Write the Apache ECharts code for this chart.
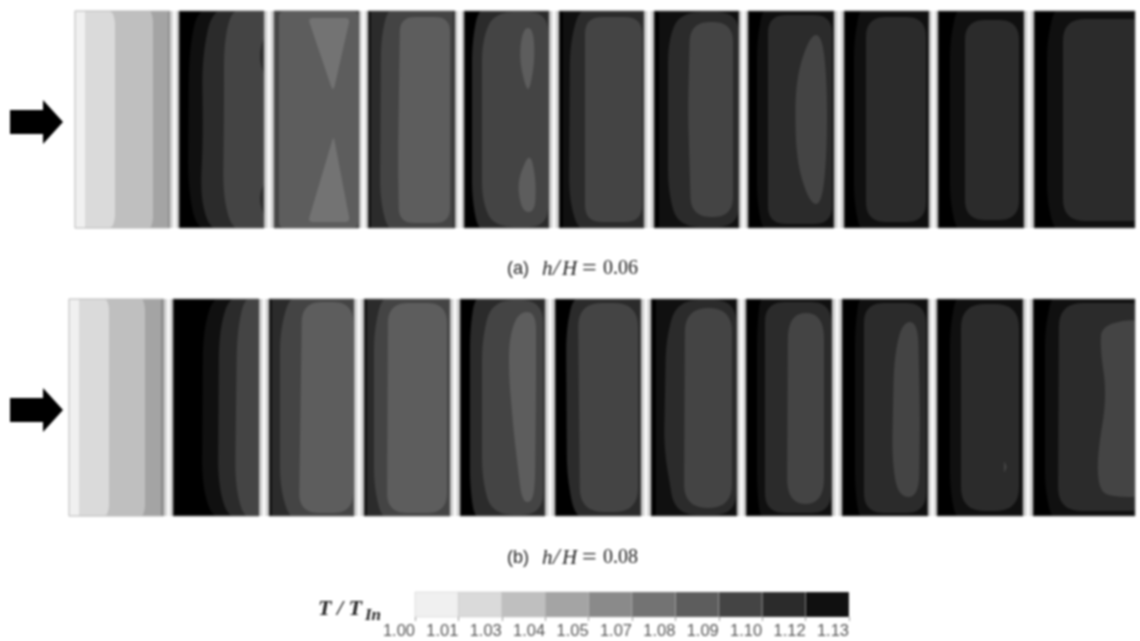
<!DOCTYPE html>
<html><head><meta charset="utf-8">
<style>html,body{margin:0;padding:0;background:#fff}#c{width:1140px;height:641px;filter:blur(1px)}</style>
<script src="https://cdn.jsdelivr.net/npm/echarts@6/dist/echarts.min.js"></script>
</head><body><div id="c"></div>
<script>
// T/Tin band lower limits and their tick labels
const bandTicks = ['1.00','1.01','1.03','1.04','1.05','1.07','1.08','1.09','1.10','1.12','1.13'];
const bandGreys = ['#f0f0f0','#dadada','#bfbfbf','#a4a4a4','#8a8a8a','#737373','#5d5d5d','#444444','#2b2b2b','#101010','#000000'];

// channel rows: vertical extent, panel edges along the duct
const rowTop = [11, 299];
const rowHeight = 217;
const arrowY = [122, 410];
const edgesA = [[75,170],[179,264],[274,359],[368,455],[464,549],[559,644],[654,739],[748,834],[844,929],[938,1024],[1034,1135]];
const edgesB = [[69,164],[173,259],[269,354],[364,450],[460,545],[555,641],[651,737],[746,832],[842,928],[937,1023],[1033,1135]];
const baseA = ['1.00','1.13','1.09','1.10','1.13','1.13','1.13','1.13','1.13','1.13','1.13'];
const baseB = ['1.00','1.13','1.10','1.10','1.13','1.13','1.13','1.13','1.13','1.13','1.13'];

// contour outlines per panel: [band, corner softness, outline points (along duct, across duct)]
const contoursA = [
 [['1.01',0,[[10,-9],[120,-9],[120,226],[10,226]]],
  ['1.03',6,[[33,-9],[40,8],[40,209],[33,226],[120,226],[120,-9]]],
  ['1.04',6,[[72,-9],[78,6],[78,211],[72,226],[120,226],[120,-9]]],
  ['1.05',0,[[93,-9],[120,-9],[120,226],[93,226]]]],
 [['1.12',30,[[20,-9],[10,40],[9,180],[20,226],[120,226],[120,-9]]],
  ['1.10',30,[[35,-9],[23,45],[24,130],[21,190],[35,226],[120,226],[120,-9]]],
  ['1.09',30,[[57,-9],[45,25],[45,100],[44,190],[57,226],[120,226],[120,-9]]],
  ['1.10',10,[[90,18],[81,35],[81,55],[90,72]]],
  ['1.10',10,[[90,165],[81,180],[81,195],[90,215]]]],
 [['1.08',6,[[5,0],[84,0],[84,217],[5,217]]],
  ['1.07',5,[[34,7],[76,7],[60,78],[58,78]]],
  ['1.07',5,[[59,127],[60,127],[76,211],[34,211]]]],
 [['1.12',0,[[-9,-9],[3,-9],[3,226],[-9,226]]],
  ['1.09',22,[[22,-9],[13,25],[12,190],[22,226],[120,226],[120,-9]]],
  ['1.08',15,[[32,6],[82,6],[82,212],[31,212],[30,150]]],
  ['1.10',0,[[85,-9],[120,-9],[120,226],[85,226]]]],
 [['1.10',22,[[16,-9],[8,30],[8,190],[16,226],[120,226],[120,-9]]],
  ['1.09',20,[[30,1],[84,1],[84,216],[30,216],[18,190],[18,30]]],
  ['1.08',22,[[59,17],[69,17],[71,47],[66,78],[62,78],[55,47]]],
  ['1.08',14,[[66,140],[72,169],[71,201],[58,201],[53,171]]]],
 [['1.12',0,[[4,-9],[120,-9],[120,226],[4,226]]],
  ['1.10',25,[[23,-9],[11,30],[10,190],[22,226],[120,226],[120,-9]]],
  ['1.09',17,[[26,6],[83,6],[83,211],[26,211]]]],
 [['1.12',0,[[5,-9],[120,-9],[120,226],[5,226]]],
  ['1.10',22,[[26,1],[85,1],[85,216],[24,216],[14,180],[14,30]]],
  ['1.09',20,[[36,11],[79,11],[79,206],[37,206],[34,100]]]],
 [['1.12',18,[[16,-9],[9,30],[9,190],[16,226],[120,226],[120,-9]]],
  ['1.10',18,[[20,4],[84,4],[84,213],[20,213]]],
  ['1.09',34,[[62,24],[74,24],[79,70],[79,140],[74,193],[62,193],[48,150],[47,70]]]],
 [['1.12',18,[[17,-9],[10,30],[10,190],[17,226],[120,226],[120,-9]]],
  ['1.10',20,[[22,6],[82,6],[82,211],[22,211]]]],
 [['1.12',18,[[20,-9],[12,30],[12,190],[20,226],[120,226],[120,-9]]],
  ['1.10',20,[[27,9],[81,9],[81,209],[27,209]]]],
 [['1.12',18,[[22,-9],[13,30],[13,190],[22,226],[120,226],[120,-9]]],
  ['1.10',22,[[29,8],[120,8],[120,210],[29,210]]]]
];
const contoursB = [
 [['1.01',0,[[10,-9],[120,-9],[120,226],[10,226]]],
  ['1.03',6,[[33,-9],[40,6],[40,211],[33,226],[120,226],[120,-9]]],
  ['1.04',6,[[70,-9],[76,6],[76,211],[70,226],[120,226],[120,-9]]],
  ['1.05',0,[[92,-9],[120,-9],[120,226],[92,226]]]],
 [['1.12',30,[[43,-9],[30,30],[29,190],[43,226],[120,226],[120,-9]]],
  ['1.10',30,[[59,-9],[46,30],[45,190],[59,226],[120,226],[120,-9]]],
  ['1.09',30,[[74,-9],[64,30],[62,190],[74,226],[120,226],[120,-9]]],
  ['1.10',0,[[85,-9],[120,-9],[120,226],[85,226]]]],
 [['1.12',0,[[-9,-9],[3,-9],[3,226],[-9,226]]],
  ['1.09',22,[[23,-9],[11,30],[11,190],[23,226],[120,226],[120,-9]]],
  ['1.08',20,[[33,3],[84,3],[84,214],[30,214]]]],
 [['1.12',0,[[-9,-9],[3,-9],[3,226],[-9,226]]],
  ['1.09',22,[[20,-9],[10,30],[10,190],[20,226],[120,226],[120,-9]]],
  ['1.08',20,[[24,4],[83,4],[83,214],[23,214]]]],
 [['1.10',20,[[16,-9],[10,30],[10,190],[16,226],[120,226],[120,-9]]],
  ['1.09',22,[[32,1],[83,1],[83,216],[32,216],[22,180],[22,40]]],
  ['1.08',18,[[49,40],[58,13],[76,13],[76,86],[75,186],[72,203],[62,203],[54,136],[49,79]]]],
 [['1.10',24,[[20,-9],[11,30],[12,180],[22,226],[120,226],[120,-9]]],
  ['1.09',24,[[23,4],[83,4],[83,213],[25,213]]]],
 [['1.12',0,[[5,-9],[120,-9],[120,226],[5,226]]],
  ['1.10',22,[[26,1],[85,1],[85,216],[24,216],[13,150],[15,40]]],
  ['1.09',24,[[34,9],[81,9],[81,209],[33,209]]]],
 [['1.12',18,[[15,-9],[11,30],[11,190],[15,226],[120,226],[120,-9]]],
  ['1.10',20,[[19,3],[85,3],[85,214],[19,214]]],
  ['1.09',26,[[42,14],[78,14],[78,205],[41,205]]]],
 [['1.12',18,[[18,-9],[13,30],[13,190],[18,226],[120,226],[120,-9]]],
  ['1.10',20,[[22,4],[84,4],[84,214],[22,214]]],
  ['1.09',24,[[52,60],[60,23],[76,23],[78,119],[77,198],[56,198],[50,160]]]],
 [['1.12',18,[[20,-9],[13,30],[13,190],[20,226],[120,226],[120,-9]]],
  ['1.10',24,[[24,5],[82,5],[82,212],[24,212]]],
  ['1.09',2,[[67,162],[70,168],[67,174]]]],
 [['1.12',18,[[20,-9],[12,30],[12,190],[20,226],[120,226],[120,-9]]],
  ['1.10',24,[[26,4],[120,4],[120,212],[25,212]]],
  ['1.09',28,[[120,19],[69,24],[67,49],[74,96],[64,159],[66,190],[77,198],[120,198]]]]
];
const arrowOutline = [[10,-12],[43,-12],[43,-22],[63,0],[43,22],[43,12],[10,12]];

const grey = t => bandGreys[bandTicks.indexOf(t)];

// softened outline, limited to the panel
function soften(pts, r, w, h) {
  const out = [], n = pts.length;
  pts.forEach((p, i) => {
    const a = pts[(i + n - 1) % n], b = pts[(i + 1) % n];
    const la = Math.hypot(a[0]-p[0], a[1]-p[1]), lb = Math.hypot(b[0]-p[0], b[1]-p[1]);
    const d1 = Math.min(r, la / 2), d2 = Math.min(r, lb / 2);
    const s = [p[0]+(a[0]-p[0])*d1/la, p[1]+(a[1]-p[1])*d1/la];
    const e = [p[0]+(b[0]-p[0])*d2/lb, p[1]+(b[1]-p[1])*d2/lb];
    for (let k = 0; k <= 10; k++) {
      const t = k / 10, u = 1 - t;
      out.push([u*u*s[0]+2*u*t*p[0]+t*t*e[0], u*u*s[1]+2*u*t*p[1]+t*t*e[1]]);
    }
  });
  return out.map(q => [Math.max(0, Math.min(w, q[0])), Math.max(0, Math.min(h, q[1]))]);
}

// flatten rows into marks
const marks = [];
[[edgesA, baseA, contoursA], [edgesB, baseB, contoursB]].forEach((row, ri) => {
  const top = rowTop[ri];
  row[0].forEach((edge, i) => {
    const w = edge[1] - edge[0];
    const next = row[0][i + 1];
    if (next) {
      marks.push({kind:'rect', x0:edge[1], x1:next[0], y0:top, y1:top+rowHeight, fill:'#d6d6d6'});
      const mid = (edge[1] + next[0]) / 2;
      marks.push({kind:'rect', x0:mid-1.2, x1:mid+1.2, y0:top, y1:top+rowHeight, fill:'#ffffff'});
    }
    marks.push({kind:'rect', x0:edge[0], x1:edge[1], y0:top, y1:top+rowHeight, fill:grey(row[1][i])});
    row[2][i].forEach(c => {
      marks.push({kind:'poly', x:edge[0], y:top, fill:grey(c[0]), pts:soften(c[2], c[1], w, rowHeight)});
    });
    marks.push({kind:'rect', x0:edge[0], x1:edge[1], y0:top, y1:top+rowHeight, fill:'none',
      stroke: i === 0 ? '#b8b8b8' : '#777777'});
  });
  marks.push({kind:'poly', x:0, y:arrowY[ri], fill:'#000000', pts:arrowOutline});
});

const chart = echarts.init(document.getElementById('c'));
chart.setOption({
  animation:false,
  backgroundColor:'#ffffff',
  grid:[{left:0,right:0,top:0,bottom:0},{left:415,width:434,top:592,height:25}],
  xAxis:[
    {gridIndex:0,type:'value',min:0,max:1140,show:false},
    {gridIndex:1,type:'value',min:0,max:10,interval:1,
     axisLine:{show:false},splitLine:{show:false},
     axisTick:{show:true,length:4,lineStyle:{color:'#999'}},
     axisLabel:{margin:6,align:'right',color:'#555',fontSize:16.5,fontFamily:'"Liberation Sans"',
       showMinLabel:true,showMaxLabel:true,hideOverlap:false,
       formatter:v=>bandTicks[v]}}
  ],
  yAxis:[
    {gridIndex:0,type:'value',min:0,max:641,inverse:true,show:false},
    {gridIndex:1,type:'value',min:0,max:1,show:false}
  ],
  series:[
    {type:'custom',xAxisIndex:0,yAxisIndex:0,silent:true,clip:false,
     data:marks.map((m,i)=>[i]),
     renderItem(params,api){
       const m = marks[params.dataIndex];
       if(m.kind==='rect'){
         const a=api.coord([m.x0,m.y0]), b=api.coord([m.x1,m.y1]);
         return {type:'rect',shape:{x:a[0],y:a[1],width:b[0]-a[0],height:b[1]-a[1]},
           style:{fill:m.fill,stroke:m.stroke||null,lineWidth:1}};
       }
       return {type:'polygon',shape:{points:m.pts.map(p=>api.coord([m.x+p[0],m.y+p[1]]))},style:{fill:m.fill}};
     }},
    {type:'custom',xAxisIndex:1,yAxisIndex:1,silent:true,clip:false,
     data:bandTicks.slice(0,10).map((t,i)=>[i,i+1]),
     renderItem(params,api){
       const a=api.coord([api.value(0),1]), b=api.coord([api.value(1),0]);
       return {type:'rect',shape:{x:a[0],y:a[1],width:b[0]-a[0],height:b[1]-a[1]},
         style:{fill:bandGreys[params.dataIndex],stroke:'#bdbdbd',lineWidth:0.4}};
     }}
  ],
  graphic:[
    ...[['(a)','0.06',268],['(b)','0.08',557]].map(c=>({type:'text',left:507,top:c[2]-12,silent:true,style:{
      text:'{s|'+c[0]+'}{g| }{h|h}{sl|/}{H|H}{e|=}{n|'+c[1]+'}',
      rich:{
        s:{fontFamily:'"Liberation Sans"',fontSize:18,fill:'#222',width:25},
        g:{fontSize:12,width:10},
        h:{fontFamily:'"Liberation Serif"',fontStyle:'italic',fontSize:21,fill:'#222',width:11},
        sl:{fontFamily:'"Liberation Serif"',fontStyle:'italic',fontSize:24,fill:'#222',width:9},
        H:{fontFamily:'"Liberation Serif"',fontStyle:'italic',fontSize:21,fill:'#222',width:20},
        e:{fontFamily:'"Liberation Serif"',fontSize:26,fill:'#222',width:21},
        n:{fontFamily:'"Liberation Serif"',fontSize:20,fill:'#222'}
      }}})),
    {type:'text',left:318,top:598,silent:true,style:{text:'T / T',fontFamily:'"Liberation Serif"',fontStyle:'italic',fontWeight:'bold',fontSize:22,fill:'#222'}},
    {type:'text',left:365,top:607,silent:true,style:{text:'In',fontFamily:'"Liberation Serif"',fontStyle:'italic',fontWeight:'bold',fontSize:17,fill:'#222'}}
  ]
});
</script></body></html>
